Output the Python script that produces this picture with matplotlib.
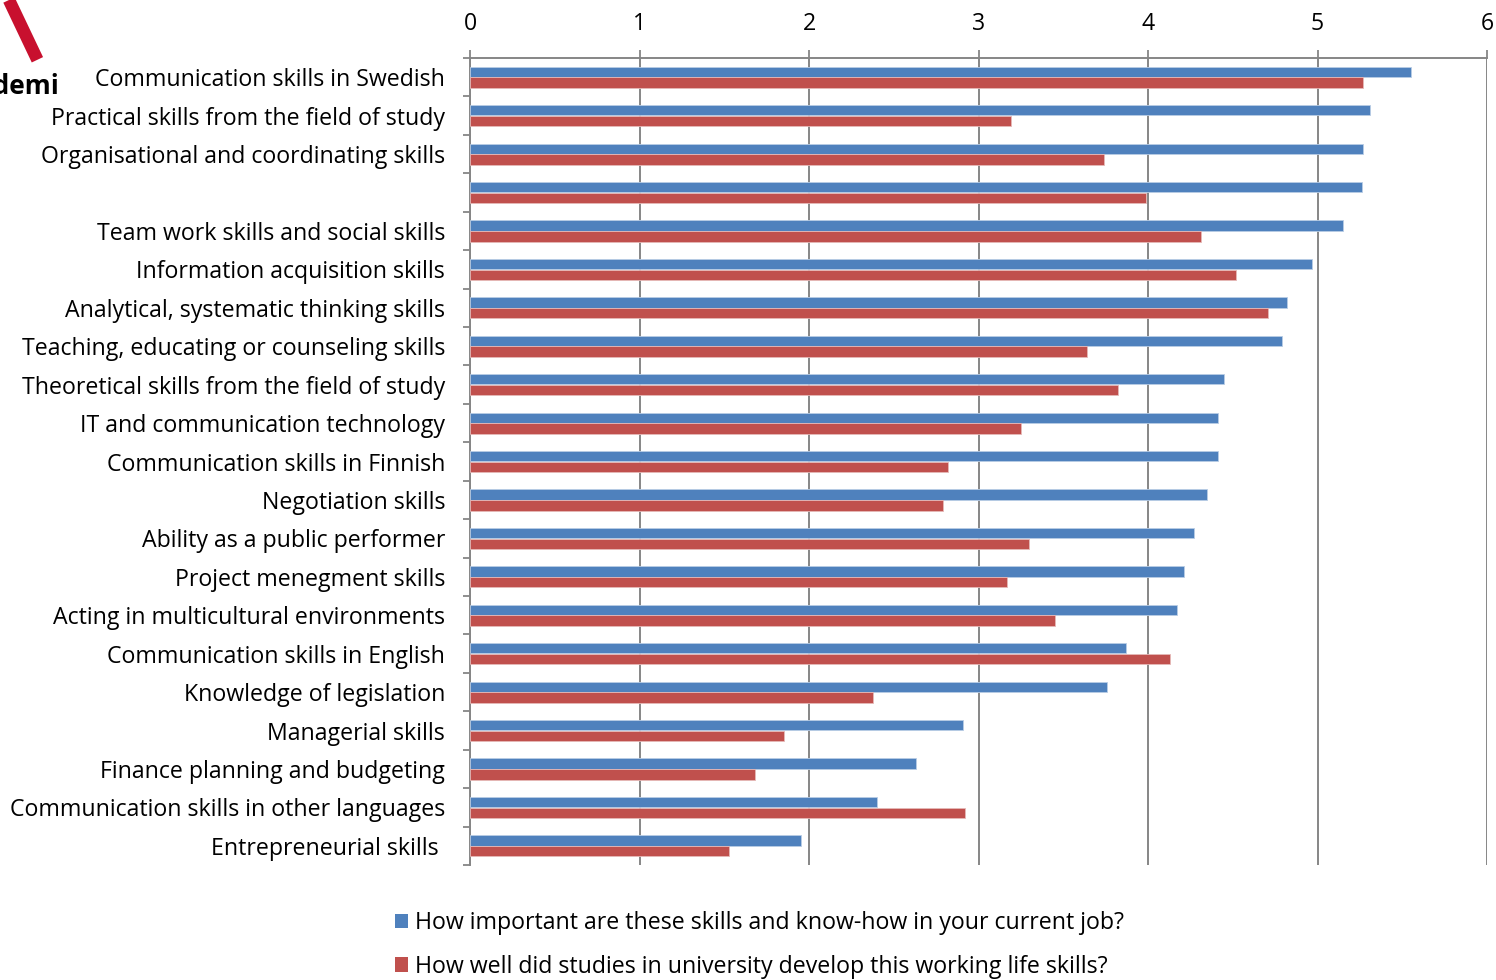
import numpy as np
import matplotlib
matplotlib.use('Agg')
import matplotlib.pyplot as plt
from matplotlib.patches import Patch
from matplotlib.lines import Line2D

plt.rcParams['font.family'] = ['Open Sans', 'DejaVu Sans']

# Data
skills = [
    'Communication skills in Swedish',
    'Practical skills from the field of study',
    'Organisational and coordinating skills',
    '',
    'Team work skills and social skills',
    'Information acquisition skills',
    'Analytical, systematic thinking skills',
    'Teaching, educating or counseling skills',
    'Theoretical skills from the field of study',
    'IT and communication technology',
    'Communication skills in Finnish',
    'Negotiation skills',
    'Ability as a public performer',
    'Project menegment skills',
    'Acting in multicultural environments',
    'Communication skills in English',
    'Knowledge of legislation',
    'Managerial skills',
    'Finance planning and budgeting',
    'Communication skills in other languages',
    'Entrepreneurial skills ',
]
important = [5.55, 5.31, 5.27, 5.26, 5.15, 4.97, 4.82, 4.79, 4.45, 4.41, 4.41,
             4.35, 4.27, 4.21, 4.17, 3.87, 3.76, 2.91, 2.63, 2.40, 1.95]
developed = [5.27, 3.19, 3.74, 3.99, 4.31, 4.52, 4.71, 3.64, 3.82, 3.25, 2.82,
             2.79, 3.30, 3.17, 3.45, 4.13, 2.38, 1.85, 1.68, 2.92, 1.53]
x_ticks = [0, 1, 2, 3, 4, 5, 6]
legend_labels = ['How important are these skills and know-how in your current job?',
                 'How well did studies in university develop this working life skills?']

blue = '#4F81BD'
red = '#C0504D'
grid_col = '#868686'
fs = 16.7

fig = plt.figure(figsize=(14.96, 9.8), dpi=100)
ax = fig.add_axes([0.3142, 0.1173, 0.6798, 0.8235])

y = np.arange(len(skills))
h = 0.27
ax.barh(y - 0.14, important, height=h, color=blue, edgecolor='#B9CDE5', linewidth=0.6, zorder=3)
ax.barh(y + 0.14, developed, height=h, color=red, edgecolor='#E6B9B8', linewidth=0.6, zorder=3)

ax.set_xlim(0, 6)
ax.set_ylim(len(skills) - 0.5, -0.5)

# x axis on top
ax.xaxis.tick_top()
ax.set_xticks(x_ticks)
ax.set_xticklabels([str(t) for t in x_ticks])
ax.tick_params(axis='x', direction='out', length=6, width=1.3, color=grid_col,
               labelsize=fs, pad=10)
ax.grid(axis='x', color=grid_col, linewidth=1.4, zorder=0)

# y axis: labels at centres, ticks at boundaries
ax.set_yticks(y)
ax.set_yticklabels(skills)
ax.tick_params(axis='y', length=0, labelsize=fs, pad=18)
ax.set_yticks(np.arange(len(skills) + 1) - 0.5, minor=True)
ax.tick_params(axis='y', which='minor', direction='out', length=5, width=1.3, color=grid_col)

for s in ['right', 'bottom']:
    ax.spines[s].set_visible(False)
for s in ['top', 'left']:
    ax.spines[s].set_color(grid_col)
    ax.spines[s].set_linewidth(1.4)

# legend below the chart
handles = [Patch(facecolor=blue, edgecolor='none'), Patch(facecolor=red, edgecolor='none')]
fig.legend(handles, legend_labels, loc='upper left', bbox_to_anchor=(0.256, 0.082),
           frameon=False, fontsize=fs, handlelength=0.6, handleheight=0.6,
           handletextpad=0.3, labelspacing=0.85, borderpad=0)

# logo fragment in the corner
fig.add_artist(Line2D([0.006, 0.025], [1.0, 0.939], color='#C8102E', linewidth=9,
                      transform=fig.transFigure, solid_capstyle='butt'))
fig.text(0.039, 0.912, 'Akademi', ha='right', va='center', fontsize=19,
         fontweight='bold', color='black')

fig.savefig('out.png', dpi=100)
